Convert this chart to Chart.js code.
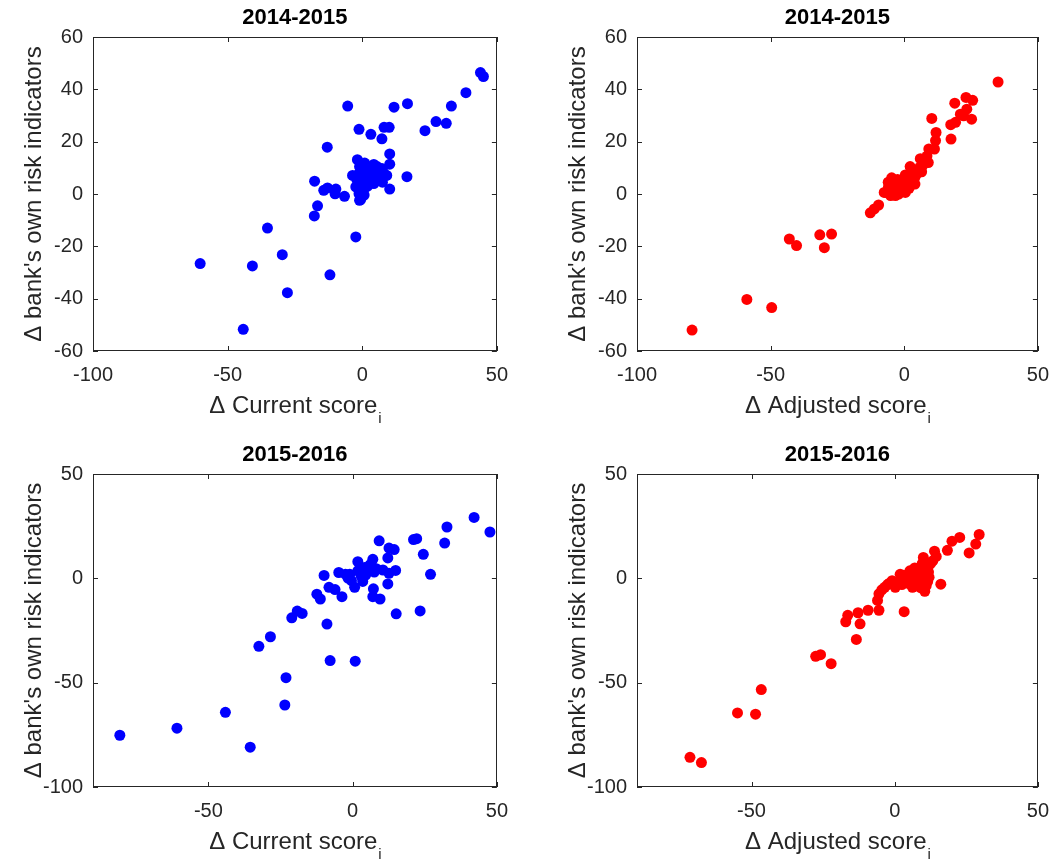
<!DOCTYPE html>
<html>
<head>
<meta charset="utf-8">
<script src="https://cdn.jsdelivr.net/npm/chart.js@4.4.1/dist/chart.umd.min.js"></script>
<style>
  html, body { margin: 0; padding: 0; background: #fff; overflow: hidden; }
  #page { position: relative; width: 1062px; height: 862px; }
  canvas { position: absolute; }
</style>
</head>
<body>
<div id="page">
  <canvas id="c1"></canvas>
  <canvas id="c2"></canvas>
  <canvas id="c3"></canvas>
  <canvas id="c4"></canvas>
</div>
<script>
// 2014-2015, current score vs own risk indicators
var cur1415X = [43.9, 45.0, 38.5, 33.1, 27.4, 31.2, 23.3, 16.8, 11.8, -5.4, -1.2, 3.2, 7.3, 8.1, 10.0, -13.0, 10.2, 10.2, 16.6, 10.2,
  -17.7, -14.3, -12.9, -10.1, -9.8, -6.6, -16.6, -17.8, -1.0, 0.7, -2.4, -35.2, -29.7, -40.8, -60.2, -12.0, -27.8, -44.2,
  -1.8, 0.9, 4.3, 7.3, -3.6, -0.6, 3.1, 6.1, 9.1, 4.3, -0.6, -2.4, -1.2, -0.6, 1.5, 5.0, 2.0, -2.0, 7.5, 0.5,
  2.5, 5.5, -1.0, 3.5, 8.0, 1.0, -1.5]
var cur1415Y = [46.4, 44.9, 38.7, 33.6, 27.7, 27.0, 24.2, 34.5, 33.2, 33.6, 24.7, 22.8, 21.1, 25.5, 25.5, 17.9, 15.3, 11.4, 6.6, 1.9,
  4.9, 1.4, 2.3, 0.1, 1.9, -0.9, -4.5, -8.4, -2.4, -0.4, -16.4, -13.0, -23.2, -27.5, -26.6, -30.9, -37.7, -51.7,
  13.1, 11.8, 11.3, 9.7, 7.1, 9.0, 6.5, 5.9, 7.1, 4.0, 4.6, 2.7, 0.1, -2.1, 8.5, 8.0, 3.0, 5.5, 4.5, 1.5,
  10.0, 10.5, 10.5, 8.5, 8.0, 6.0, 7.5]

// 2014-2015, adjusted score vs own risk indicators
var adj1415X = [35.1, 23.1, 25.6, 18.9, 23.4, 25.2, 22.2, 21.0, 19.2, 17.4, 10.3, 11.9, 11.7, 17.5, 11.3, 9.2, 7.6, 5.8, 2.2, 4.0,
  3.4, 0.4, -4.7, -2.7, -0.8, -5.9, -7.5, -6.9, -5.1, -3.3, -2.1, 0.4, -0.8, 1.0, 4.0, -9.6, -11.2, -12.7,
  -27.2, -31.6, -29.9, -43.0, -40.3, -58.9, -49.6, -79.4,
  -4.0, -1.5, 1.8, 6.5, -6.0, 2.5, 8.5, 9.0,
  -3.0, -5.0, -1.0, 1.5, 3.0, 5.0, -2.5, 0.0, 7.0, 6.0]
var adj1415Y = [42.8, 36.9, 35.8, 34.7, 32.4, 28.6, 29.9, 30.5, 27.4, 26.5, 28.9, 23.5, 20.4, 21.0, 17.2, 17.2, 12.4, 10.2, 10.5, 6.4,
  7.6, 7.3, 6.2, 3.8, 4.4, 2.8, 0.6, 0.6, -0.6, -0.6, 0.0, 0.6, 2.5, 4.5, 3.8, -4.2, -5.7, -7.2,
  -15.3, -15.6, -20.5, -17.2, -19.7, -40.3, -43.4, -52.0,
  3.0, 1.5, 2.2, 8.5, 4.5, 5.5, 14.5, 12.0,
  2.0, 1.5, 3.0, 6.0, 9.0, 8.0, 5.5, 1.2, 11.0, 13.5]

// 2015-2016, current score
var cur1516X = [42.1, 47.6, 32.7, 31.9, 21.1, 22.2, 24.5, 27.0, 9.2, 12.6, 14.4, 12.2, 1.8, 7.0, 8.2, 14.9, 12.6, 12.2, 7.2, 9.5,
  7.0, -4.8, -9.9, -1.6, 0.7, -8.2, -6.1, -3.7, -12.4, -11.2, -19.2, -17.5, -21.1, -8.9, -28.5, -32.5, 15.1, 23.4,
  -7.8, 0.9, -23.1, -23.5, -44.1, -60.9, -80.7, -35.5,
  4.1, -0.4, 1.8, 5.2, 3.0, -2.5, 6.0, 10.5,
  2.5, -1.0, 4.5, 7.5, 3.5]
var cur1516Y = [29.2, 22.2, 24.6, 16.9, 18.6, 19.0, 11.5, 1.9, 18.0, 14.5, 13.8, 9.8, 8.0, 9.1, 4.6, 3.8, 2.4, -2.7, -5.0, -9.9,
  -8.8, 2.8, 1.4, 0.1, -4.3, -4.3, -5.4, -8.8, -7.6, -9.9, -15.7, -16.8, -18.9, -21.9, -28.0, -32.6, -17.0, -15.6,
  -39.4, -39.7, -47.6, -60.7, -64.2, -71.8, -75.2, -80.9,
  5.2, -1.1, 3.6, 3.6, 1.0, 2.0, 6.5, 4.0,
  4.5, 2.0, 1.5, 3.0, -1.5]

// 2015-2016, adjusted score
var adj1516X = [29.5, 28.3, 26.0, 22.7, 20.0, 18.4, 13.9, 13.3, 9.6, 9.9, 9.3, 10.5, 6.2, 16.1, 3.3, 5.3, 1.9, -0.9, -3.5, -5.5,
  -6.0, -5.5, -9.3, -12.8, -16.4, -17.1, -12.1, -13.4, -27.6, -25.9, -22.2, -46.6, -54.9, -48.6, -71.5, -67.5,
  0.2, 3.6, 11.6, 10.5, 6.2, 1.4, 8.0, 11.0, 12.0, 7.5, 2.5, -2.0, 10.0, 14.5,
  4.0, 8.5, 11.5, 9.0, 11.8, 5.0, 3.0, 7.0, 12.5, -2.5, -4.5, 6.0]
var adj1516Y = [21.0, 16.4, 12.2, 19.6, 17.8, 13.4, 13.0, 8.4, 7.0, 3.6, -0.3, -6.2, -4.3, -2.8, -16.0, 3.6, 1.9, -1.1, -4.3, -7.4,
  -10.6, -15.3, -15.3, -16.5, -17.7, -20.8, -21.8, -29.3, -37.4, -36.6, -40.9, -53.3, -64.5, -65.1, -85.8, -88.3,
  -4.3, -1.1, 5.2, 2.1, -0.3, -1.9, -2.0, -3.5, 0.5, 2.5, -3.0, -2.5, 10.0, 10.5,
  0.5, 1.0, -1.5, -4.5, 3.0, -2.5, 1.5, 5.0, 7.0, -3.0, -5.5, 2.5]

// axis ticks
var xTicksTop = [-100, -50, 0, 50]
var yTicksTop = [-60, -40, -20, 0, 20, 40, 60]
var xTicksBottom = [-50, 0, 50]
var yTicksBottom = [-100, -50, 0, 50]

var FONT = "'Liberation Sans', Arial, Helvetica, sans-serif"
var AXIS = '#262626'
var LEFT = 93, TOP = 37, RIGHT = 15, BOTTOM = 76

function zip(xs, ys) {
  return xs.map(function (x, i) { return { x: x, y: ys[i] } })
}

// box, inward ticks, title and the x label with its subscript
var framePlugin = {
  id: 'frame',
  afterDraw: function (chart, args, opts) {
    var ctx = chart.ctx
    var a = chart.chartArea
    var xs = chart.scales.x, ys = chart.scales.y
    ctx.save()
    ctx.strokeStyle = AXIS
    ctx.lineWidth = 1
    ctx.strokeRect(Math.round(a.left) + 0.5, Math.round(a.top) + 0.5,
      Math.round(a.right - a.left) - 1, Math.round(a.bottom - a.top) - 1)
    ctx.beginPath()
    opts.xTicks.forEach(function (v) {
      var px = Math.round(xs.getPixelForValue(v)) + 0.5
      ctx.moveTo(px, a.bottom); ctx.lineTo(px, a.bottom - 5)
      ctx.moveTo(px, a.top); ctx.lineTo(px, a.top + 5)
    })
    opts.yTicks.forEach(function (v) {
      var py = Math.round(ys.getPixelForValue(v)) + 0.5
      ctx.moveTo(a.left, py); ctx.lineTo(a.left + 5, py)
      ctx.moveTo(a.right, py); ctx.lineTo(a.right - 5, py)
    })
    ctx.stroke()

    var cx = (a.left + a.right) / 2
    ctx.fillStyle = '#000'
    ctx.font = 'bold 22px ' + FONT
    ctx.textAlign = 'center'
    ctx.textBaseline = 'middle'
    ctx.fillText(opts.title, cx, a.top - 19)

    ctx.fillStyle = AXIS
    ctx.font = '24px ' + FONT
    var w1 = ctx.measureText(opts.xLabel).width
    ctx.font = '15px ' + FONT
    var w2 = ctx.measureText('i').width
    var x0 = cx - (w1 + w2) / 2
    ctx.textAlign = 'left'
    ctx.textBaseline = 'alphabetic'
    ctx.font = '24px ' + FONT
    ctx.fillText(opts.xLabel, x0, a.bottom + 62)
    ctx.font = '15px ' + FONT
    ctx.fillText('i', x0 + w1 + 1, a.bottom + 72)
    ctx.restore()
  }
}

function makePanel(id, rect, pts, color, xMin, xMax, xTicks, yMin, yMax, yTicks, title, xLabel) {
  var cv = document.getElementById(id)
  var W = rect.w + LEFT + RIGHT, H = rect.h + TOP + BOTTOM
  cv.width = W; cv.height = H
  cv.style.left = (rect.left - LEFT) + 'px'
  cv.style.top = (rect.top - TOP) + 'px'
  cv.style.width = W + 'px'; cv.style.height = H + 'px'

  new Chart(cv.getContext('2d'), {
    type: 'scatter',
    data: {
      datasets: [{
        data: pts,
        backgroundColor: color,
        borderWidth: 0,
        pointRadius: 5.5,
        pointHoverRadius: 5.5
      }]
    },
    options: {
      responsive: false,
      animation: false,
      devicePixelRatio: 1,
      layout: { padding: { left: 0, top: TOP, right: RIGHT, bottom: 0 } },
      plugins: {
        legend: { display: false },
        tooltip: { enabled: false },
        frame: { title: title, xLabel: xLabel, xTicks: xTicks, yTicks: yTicks }
      },
      scales: {
        x: {
          type: 'linear', min: xMin, max: xMax,
          grid: { display: false, drawTicks: false },
          border: { display: false },
          afterBuildTicks: function (s) { s.ticks = xTicks.map(function (v) { return { value: v } }) },
          afterFit: function (s) { s.height = BOTTOM },
          ticks: { color: AXIS, font: { family: FONT, size: 20 }, padding: 12, maxRotation: 0, autoSkip: false }
        },
        y: {
          type: 'linear', min: yMin, max: yMax,
          grid: { display: false, drawTicks: false },
          border: { display: false },
          afterBuildTicks: function (s) { s.ticks = yTicks.map(function (v) { return { value: v } }) },
          afterFit: function (s) { s.width = LEFT },
          ticks: { color: AXIS, font: { family: FONT, size: 20 }, padding: 10, autoSkip: false },
          title: {
            display: true, text: "\u0394 bank's own risk indicators", color: AXIS,
            font: { family: FONT, size: 24 }, padding: { top: 20, bottom: 0 }
          }
        }
      }
    },
    plugins: [framePlugin]
  })
}

makePanel('c1', { left: 93, top: 37, w: 412, h: 314 }, zip(cur1415X, cur1415Y), '#0000ff',
  -100, 50, xTicksTop, -60, 60, yTicksTop, '2014-2015', '\u0394 Current score')
makePanel('c2', { left: 637, top: 37, w: 409, h: 314 }, zip(adj1415X, adj1415Y), '#ff0000',
  -100, 50, xTicksTop, -60, 60, yTicksTop, '2014-2015', '\u0394 Adjusted score')
makePanel('c3', { left: 93, top: 474, w: 412, h: 313 }, zip(cur1516X, cur1516Y), '#0000ff',
  -90, 50, xTicksBottom, -100, 50, yTicksBottom, '2015-2016', '\u0394 Current score')
makePanel('c4', { left: 637, top: 474, w: 409, h: 313 }, zip(adj1516X, adj1516Y), '#ff0000',
  -90, 50, xTicksBottom, -100, 50, yTicksBottom, '2015-2016', '\u0394 Adjusted score')
</script>
</body>
</html>
